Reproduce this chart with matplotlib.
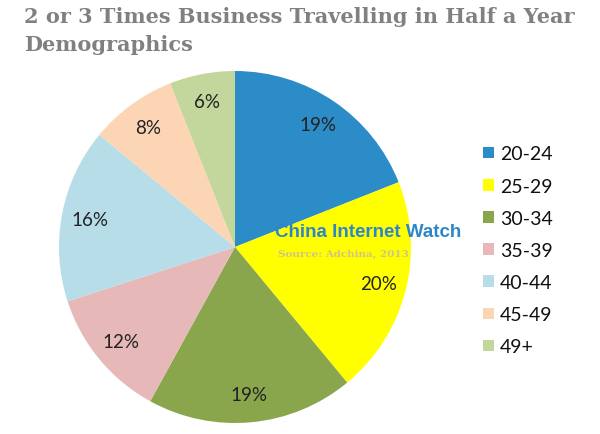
import matplotlib
matplotlib.use("Agg")
import matplotlib.pyplot as plt
from matplotlib.patches import Patch

categories = ["20-24", "25-29", "30-34", "35-39", "40-44", "45-49", "49+"]
values = [19, 20, 19, 12, 16, 8, 6]
colors = ["#2B8CC8", "#FFFF00", "#8AA64C", "#E6B9B8", "#B7DDE8", "#FCD5B5", "#C3D69B"]

fig = plt.figure(figsize=(6, 4.35), dpi=100)
fig.patch.set_facecolor("white")

# pie axes: center (235,248), radius ~176 px
R = 176
cx, cy = 235, 248
ax = fig.add_axes([(cx - R) / 600, 1 - (cy + R) / 435, 2 * R / 600, 2 * R / 435])
wedges, texts, autotexts = ax.pie(
    values, colors=colors, startangle=90, counterclock=False,
    autopct=lambda p: f"{p:.0f}%", pctdistance=0.84, radius=1,
    textprops=dict(fontsize=13.5, family="Lato", color="#222222"),
    wedgeprops=dict(linewidth=0))
ax.set_xlim(-1, 1)
ax.set_ylim(-1, 1)
ax.set_aspect("equal")

fig.text(24 / 600, 1 - 31 / 435, "2 or 3 Times Business Travelling in Half a Year\nDemographics",
         fontsize=15, fontweight="bold", family="DejaVu Serif", color="#808080",
         va="center", ha="left", linespacing=1.45)

handles = [Patch(facecolor=c, edgecolor="none") for c in colors]
leg = fig.legend(handles, categories, loc="upper left",
                 bbox_to_anchor=(466 / 600, 1 - 129 / 435), frameon=False,
                 prop=dict(family="Lato", size=14), labelspacing=0.78,
                 handlelength=0.55, handleheight=0.55, handletextpad=0.3,
                 labelcolor="#111111")

fig.text(368 / 600, 1 - 233 / 435, "China Internet Watch", fontsize=13.5,
         fontweight="bold", family="Liberation Sans", color="#2E86C8",
         ha="center", va="center")
fig.text(343 / 600, 1 - 254 / 435, "Source: Adchina, 2013", fontsize=7.5,
         fontweight="bold", family="DejaVu Serif", color="#CFC38C",
         ha="center", va="center")

fig.savefig("out.png", dpi=100)
